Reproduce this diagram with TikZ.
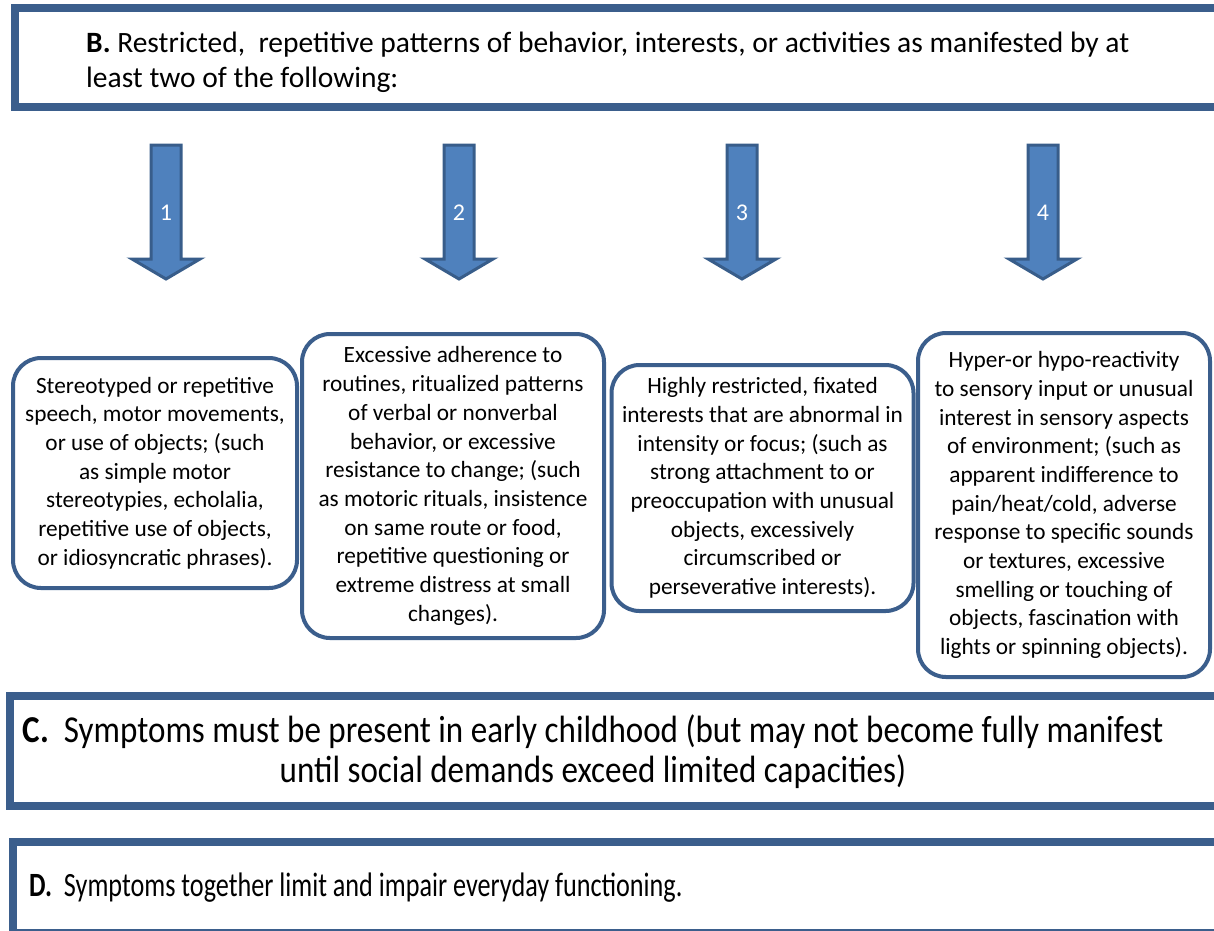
\documentclass[tikz,border=0pt]{standalone}
\usepackage{fontspec}
\setmainfont{Carlito}
\newfontfamily\narrowfont[FakeStretch=0.87]{Carlito}
\newfontfamily\narrowerfont[FakeStretch=0.77]{Carlito}
\usetikzlibrary{positioning}
\definecolor{framecol}{HTML}{3B5E8C}
\definecolor{arrowfill}{HTML}{4F81BD}
\definecolor{arrowline}{HTML}{385D8A}

\begin{document}
\begin{tikzpicture}[x=1pt,y=-1pt,
    frame/.style={draw=framecol,line width=8pt,fill=white,inner sep=0pt},
    item/.style={draw=framecol,line width=4pt,rounded corners=28pt,fill=white,
      align=center,inner sep=0pt,font=\fontsize{23.3}{28.7}\selectfont},
    blockarrow/.style={draw=arrowline,fill=arrowfill,line width=3pt,line join=miter},
    num/.style={text=white,font=\fontsize{24}{28}\selectfont,inner sep=0pt}]

    \useasboundingbox (0,0) rectangle (1214,930);

    % criterion B
    \node[frame,minimum width=1225pt,minimum height=99pt] (critB) at (627.5,57.5) {};
    \node[anchor=west,inner sep=0pt,align=left,font=\fontsize{29.5}{35}\selectfont]
      (textB) [right=75pt of critB.west,yshift=-5pt] {\textbf{B.} Restricted, \ repetitive patterns of behavior, interests, or activities as manifested by at\\least two of the following:};

    % the four arrows
    \foreach \x/\n in {166/1,459/2,742/3,1043/4} {
      \draw[blockarrow] (\x-15,145) -- (\x+15,145) -- (\x+15,259) -- (\x+34,259)
        -- (\x,279) -- (\x-34,259) -- (\x-15,259) -- cycle;
      \node[num] (num\n) at (\x,213) {\n};
    }

    % the four items
    \node[item,minimum width=284pt,minimum height=230pt] (item1) at (155,473)
      {Stereotyped or repetitive\\speech, motor movements,\\or use of objects; (such\\as simple motor\\stereotypies, echolalia,\\repetitive use of objects,\\or idiosyncratic phrases).};
    \node[item,minimum width=302pt,minimum height=304pt] (item2) at (453,486)
      {Excessive adherence to\\routines, ritualized patterns\\of verbal or nonverbal\\behavior, or excessive\\resistance to change; (such\\as motoric rituals, insistence\\on same route or food,\\repetitive questioning or\\extreme distress at small\\changes).};
    \node[item,minimum width=302pt,minimum height=246pt] (item3) at (762.5,488)
      {Highly restricted, fixated\\interests that are abnormal in\\intensity or focus; (such as\\strong attachment to or\\preoccupation with unusual\\objects, excessively\\circumscribed or\\perseverative interests).};
    \node[item,minimum width=292pt,minimum height=344pt] (item4) at (1064,505)
      {Hyper-or hypo-reactivity\\to sensory input or unusual\\interest in sensory aspects\\of environment; (such as\\apparent indifference to\\pain/heat/cold, adverse\\response to specific sounds\\or textures, excessive\\smelling or touching of\\objects, fascination with\\lights or spinning objects).};

    % criteria C and D
    \node[frame,minimum width=1230pt,minimum height=110pt] (critC) at (624.75,751) {};
    \node[inner sep=0pt,align=center,font=\narrowfont\fontsize{38}{40}\selectfont]
      (textC) at (593,752) {\textbf{C.} \ Symptoms must be present in early childhood (but may not become fully manifest\\until social demands exceed limited capacities)};
    \node[frame,minimum width=1227pt,minimum height=91pt] (critD) at (626.5,887.5) {};
    \node[anchor=west,inner sep=0pt,font=\narrowerfont\fontsize{34}{38}\selectfont]
      (textD) [right=20pt of critD.west] {\textbf{D.} \ Symptoms together limit and impair everyday functioning.};
\end{tikzpicture}
\end{document}
